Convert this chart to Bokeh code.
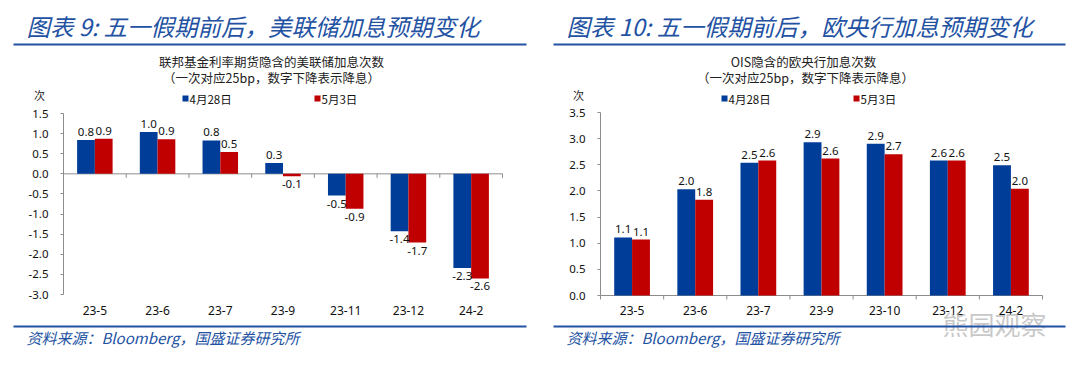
import math
from bokeh.plotting import figure
from bokeh.models import (Range1d, LinearAxis, FixedTicker, PrintfTickFormatter,
                          Label, BoxAnnotation, ColumnDataSource)
from bokeh.layouts import row
from bokeh.embed import file_html
from bokeh.resources import INLINE
from bokeh.core.properties import value

# ---------------- data ----------------
fed_categories = ["23-5", "23-6", "23-7", "23-9", "23-11", "23-12", "24-2"]
fed_apr28 = [0.84, 1.04, 0.83, 0.27, -0.54, -1.43, -2.34]
fed_may3 = [0.87, 0.86, 0.54, -0.06, -0.87, -1.71, -2.60]
fed_yticks = [-3.0, -2.5, -2.0, -1.5, -1.0, -0.5, 0.0, 0.5, 1.0, 1.5]

ecb_categories = ["23-5", "23-6", "23-7", "23-9", "23-10", "23-12", "24-2"]
ecb_apr28 = [1.11, 2.03, 2.54, 2.93, 2.90, 2.58, 2.49]
ecb_may3 = [1.07, 1.83, 2.58, 2.62, 2.70, 2.58, 2.04]
ecb_yticks = [0.0, 0.5, 1.0, 1.5, 2.0, 2.5, 3.0, 3.5]

series_names = ["4月28日", "5月3日"]
fed_title = "图表 9:  五一假期前后，美联储加息预期变化"
ecb_title = "图表 10:  五一假期前后，欧央行加息预期变化"
fed_sub1 = "联邦基金利率期货隐含的美联储加息次数"
ecb_sub1 = "OIS隐含的欧央行加息次数"
sub2 = "（一次对应25bp，数字下降表示降息）"
unit_label = "次"
source_text = "资料来源：Bloomberg，国盛证券研究所"
watermark = "熊园观察"

BLUE = "#003d99"
RED = "#c00000"
TXT_BLUE = "#2352a3"
AXIS = "#8c8c8c"
CJK = "Noto Sans CJK SC"
NUM = "Noto Sans"
W, H = 540, 370


class Panel:
    def __init__(self, p, x0):
        self.p, self.x0 = p, x0

    def lab(self, text, rx, ry, size, color, align="left", baseline="middle",
            font=CJK, style="normal", alpha=1.0):
        self.p.add_layout(Label(x=rx - self.x0, y=H - ry,
                                x_units="screen", y_units="screen",
                                text=text, text_font=font,
                                text_font_size=f"{size}px", text_color=color,
                                text_align=align, text_baseline=baseline,
                                text_font_style=style, text_alpha=alpha))

    def box(self, l, r, t, b, color):
        self.p.add_layout(BoxAnnotation(left=l - self.x0, right=r - self.x0,
                                        top=H - t, bottom=H - b,
                                        left_units="screen", right_units="screen",
                                        top_units="screen", bottom_units="screen",
                                        fill_color=color, fill_alpha=1.0,
                                        line_color=None, level="overlay"))


def panel(x0, cats, s1, s2, yticks, ymin, ymax, frame, title, sub1, cfg):
    n = len(cats)
    fl, fr, ft, fb = frame  # data-area edges in page pixels
    cw = (fr - fl) / n
    ppu = (fb - ft) / (ymax - ymin)
    p = figure(width=W, height=H,
               x_range=Range1d(-(fl - x0) / cw, n + (x0 + W - fr) / cw),
               y_range=Range1d(ymin - (H - fb) / ppu, ymax + ft / ppu),
               output_backend="svg", toolbar_location=None,
               x_axis_location=None, y_axis_location=None)
    p.min_border = 0
    p.outline_line_color = None
    p.grid.visible = False
    p.background_fill_color = "white"
    p.border_fill_color = "white"

    ya = LinearAxis(fixed_location=0, bounds=(ymin, ymax),
                    ticker=FixedTicker(ticks=yticks),
                    formatter=PrintfTickFormatter(format="%.1f"),
                    axis_line_color=AXIS, major_tick_line_color=AXIS,
                    major_tick_out=3, major_tick_in=0, minor_tick_line_color=None,
                    major_label_standoff=12, major_label_text_font=NUM,
                    major_label_text_font_size="11.5px",
                    major_label_text_color="#111111")
    p.add_layout(ya, "left")

    centers = [i + 0.5 for i in range(n)]
    la = LinearAxis(fixed_location=ymin, bounds=(0, n),
                    ticker=FixedTicker(ticks=centers),
                    major_label_overrides={c: t for c, t in zip(centers, cats)},
                    axis_line_color=None, major_tick_line_color=None,
                    minor_tick_line_color=None, major_tick_out=0, major_tick_in=0,
                    major_label_standoff=cfg["xstand"],
                    major_label_text_font=NUM, major_label_text_font_size="12px",
                    major_label_text_color="#111111")
    p.add_layout(la, "below")

    # zero line and category boundary ticks
    bounds = list(range(n + 1))
    p.segment(x0=[0], y0=[0], x1=[n], y1=[0], line_color=AXIS, line_width=1)
    p.ray(x=bounds, y=[0] * len(bounds), length=4, length_units="screen",
          angle=-math.pi / 2, line_color=AXIS, line_width=1)

    bw = 0.283
    xb = [c - bw / 2 for c in centers]
    xr = [c + bw / 2 for c in centers]
    src = ColumnDataSource(dict(xb=xb, xr=xr, a=s1, b=s2))
    p.vbar(x="xb", top="a", bottom=0, width=bw, source=src, fill_color=BLUE,
           line_color=None)
    p.vbar(x="xr", top="b", bottom=0, width=bw, source=src, fill_color=RED,
           line_color=None)

    for xs, vs in ((xb, s1), (xr, s2)):
        pos = [(x, v) for x, v in zip(xs, vs) if v >= 0]
        neg = [(x, v) for x, v in zip(xs, vs) if v < 0]
        if pos:
            p.text(x=[a for a, _ in pos], y=[b for _, b in pos],
                   text=[f"{b:.1f}" for _, b in pos], text_align="center",
                   text_baseline="bottom", y_offset=-4, text_font=value(NUM),
                   text_font_size="11.5px", text_color="#111111")
        if neg:
            p.text(x=[a for a, _ in neg], y=[b for _, b in neg],
                   text=[f"{b:.1f}" for _, b in neg], text_align="center",
                   text_baseline="top", y_offset=4, text_font=value(NUM),
                   text_font_size="11.5px", text_color="#111111")

    P = Panel(p, x0)
    P.lab(title, x0 + 26, 25, 23.5, TXT_BLUE, style="italic")
    P.box(x0 + 13, x0 + cfg["lineend"], 43, 45, TXT_BLUE)
    P.lab(sub1, cfg["subx1"], 61, 12.5, "#222222", align="center")
    P.lab(sub2, cfg["subx2"], 77, 12.5, "#222222", align="center")
    P.lab(unit_label, cfg["unitx"], 94, 11, "#222222", align="center")
    lx = cfg["leg"]
    P.box(lx[0], lx[0] + 6, 95, 101, BLUE)
    P.lab(series_names[0], lx[0] + 7, 98, 11.5, "#111111")
    P.box(lx[1], lx[1] + 6, 95, 101, RED)
    P.lab(series_names[1], lx[1] + 7, 98, 11.5, "#111111")
    P.box(x0 + 13, x0 + cfg["lineend"], 325, 327, TXT_BLUE)
    P.lab(source_text, x0 + 26, 337, 15, TXT_BLUE, style="italic")
    return p, P


p1, P1 = panel(0, fed_categories, fed_apr28, fed_may3, fed_yticks, -3.0, 1.5,
               (63, 502, 113, 294), fed_title, fed_sub1,
               dict(xstand=11, subx1=271, subx2=271, unitx=39, leg=(182, 314),
                    lineend=526))
p2, P2 = panel(540, ecb_categories, ecb_apr28, ecb_may3, ecb_yticks, 0.0, 3.5,
               (600, 1042, 112, 295), ecb_title, ecb_sub1,
               dict(xstand=10, subx1=803, subx2=805, unitx=578, leg=(721, 853),
                    lineend=525))
P2.lab(watermark, 942, 323, 26, "#b0b0b0", alpha=0.7)

layout = row(p1, p2)
open("out.html", "w").write(file_html(layout, INLINE))
